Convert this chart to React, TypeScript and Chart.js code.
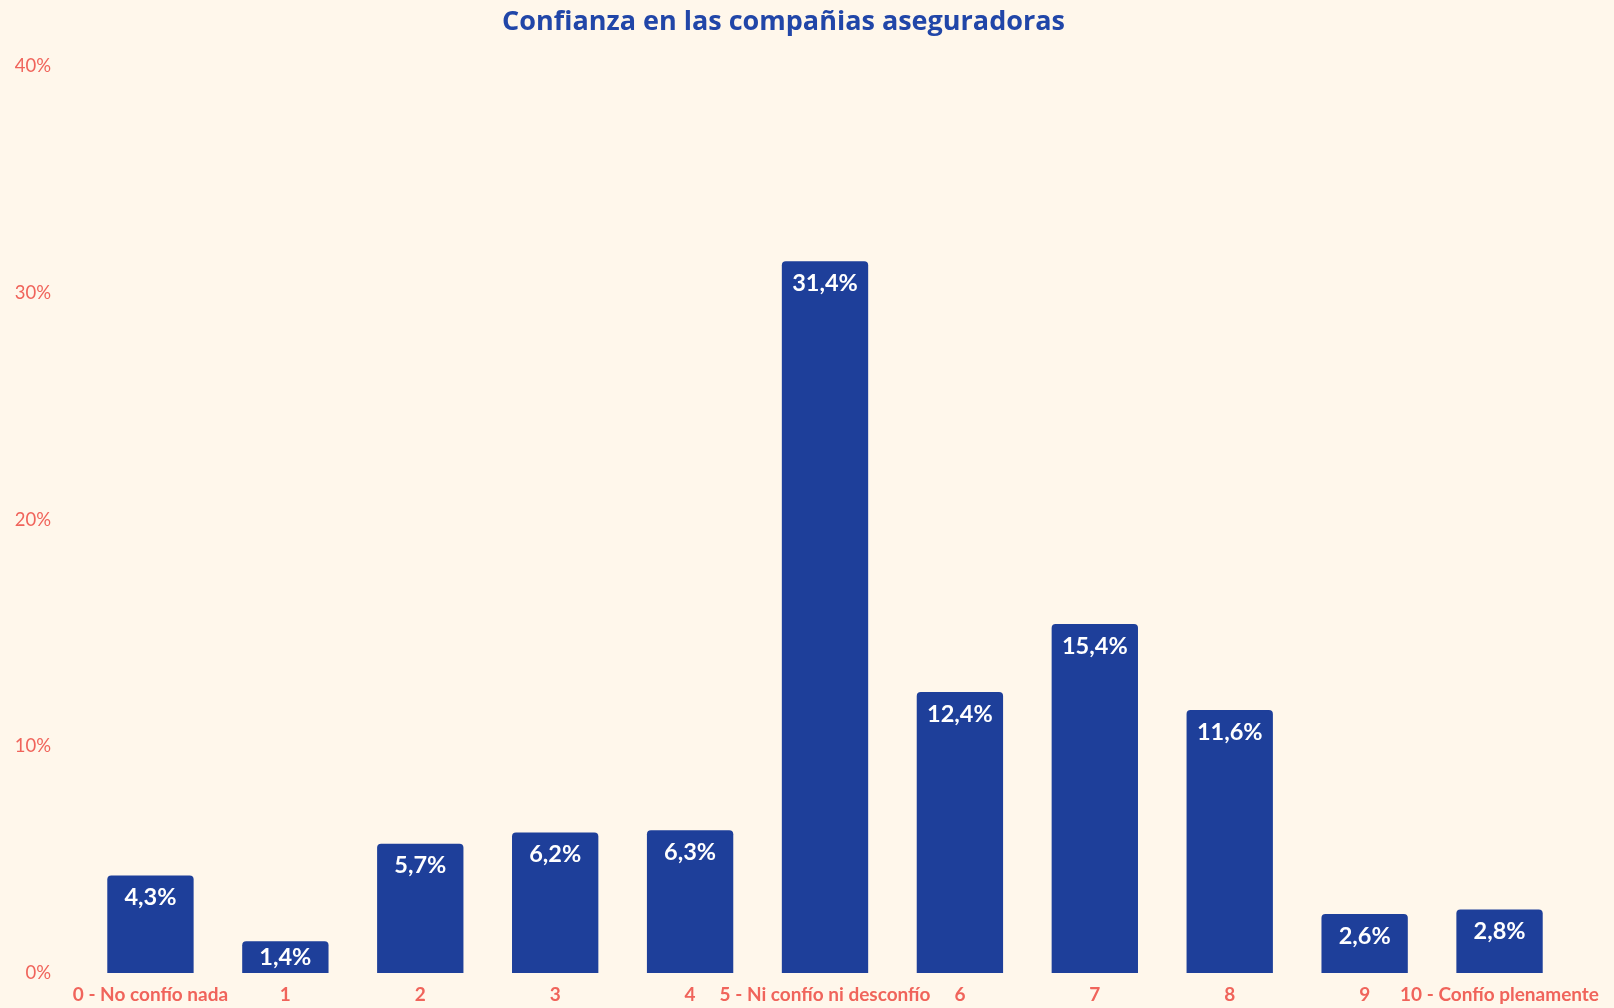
import React, { useEffect, useRef } from "react";
import { Chart, registerables } from "chart.js";

Chart.register(...registerables);

const categories = [
  "0 - No confío nada",
  "1",
  "2",
  "3",
  "4",
  "5 - Ni confío ni desconfío",
  "6",
  "7",
  "8",
  "9",
  "10 - Confío plenamente",
];
const values = [4.3, 1.4, 5.7, 6.2, 6.3, 31.4, 12.4, 15.4, 11.6, 2.6, 2.8];
const yTicks = [0, 10, 20, 30, 40];
const titleText = "Confianza en las compañias aseguradoras";

const BG = "#FFF7EB";
const BAR = "#1E3F9A";
const SALMON = "#F0645B";
const TITLE = "#2146A8";

const bgPlugin = {
  id: "bg",
  beforeDraw(chart: any) {
    const { ctx, width, height } = chart;
    ctx.save();
    ctx.fillStyle = BG;
    ctx.fillRect(0, 0, width, height);
    ctx.restore();
  },
};

const labelPlugin = {
  id: "barLabels",
  afterDatasetsDraw(chart: any) {
    const { ctx } = chart;
    const meta = chart.getDatasetMeta(0);
    ctx.save();
    ctx.fillStyle = "#FFFFFF";
    ctx.font = "bold 23.5px Lato";
    ctx.textAlign = "center";
    ctx.textBaseline = "middle";
    meta.data.forEach((bar: any, i: number) => {
      const v = values[i];
      const txt = v.toFixed(1).replace(".", ",") + "%";
      const y = Math.min(bar.y + 22, (bar.y + bar.base) / 2);
      ctx.fillText(txt, bar.x, y);
    });
    ctx.restore();
  },
};

export default function App() {
  const ref = useRef<HTMLCanvasElement | null>(null);
  useEffect(() => {
    if (!ref.current) return;
    const chart = new Chart(ref.current, {
      type: "bar",
      data: {
        labels: categories,
        datasets: [
          {
            data: values,
            backgroundColor: BAR,
            borderRadius: 4,
            borderSkipped: "bottom",
            barPercentage: 0.64,
            categoryPercentage: 1,
          },
        ],
      },
      options: {
        animation: false,
        responsive: false,
        maintainAspectRatio: false,
        layout: { padding: { left: 0, right: 47, top: 0, bottom: 0 } },
        plugins: {
          legend: { display: false },
          tooltip: { enabled: false },
          title: {
            display: true,
            text: titleText,
            color: TITLE,
            font: { family: "Open Sans", size: 27, weight: "bold" },
            padding: { top: 6, bottom: 28 },
          },
        },
        scales: {
          x: {
            grid: { display: false, drawTicks: false },
            border: { display: false },
            ticks: {
              color: SALMON,
              font: { family: "Lato", size: 19, weight: "bold" },
              padding: 10,
              maxRotation: 0,
              autoSkip: false,
            },
            afterFit(scale: any) {
              scale.height = 35;
            },
          },
          y: {
            min: 0,
            max: 40,
            afterBuildTicks(scale: any) {
              scale.ticks = yTicks.map((v) => ({ value: v }));
            },
            grid: { display: false, drawTicks: false },
            border: { display: false },
            ticks: {
              color: SALMON,
              font: { family: "Lato", size: 18.5 },
              padding: 32,
              callback: (v: any) => v + "%",
            },
            afterFit(scale: any) {
              scale.width = 83;
              scale.paddingTop = 0;
              scale.paddingBottom = 0;
            },
          },
        },
      },
      plugins: [bgPlugin, labelPlugin],
    });
    return () => chart.destroy();
  }, []);
  return (
    <div style={{ position: "fixed", left: 0, top: 0, width: 1614, height: 1008, background: BG }}>
      <canvas ref={ref} width={1614} height={1008} style={{ width: 1614, height: 1008 }} />
    </div>
  );
}
